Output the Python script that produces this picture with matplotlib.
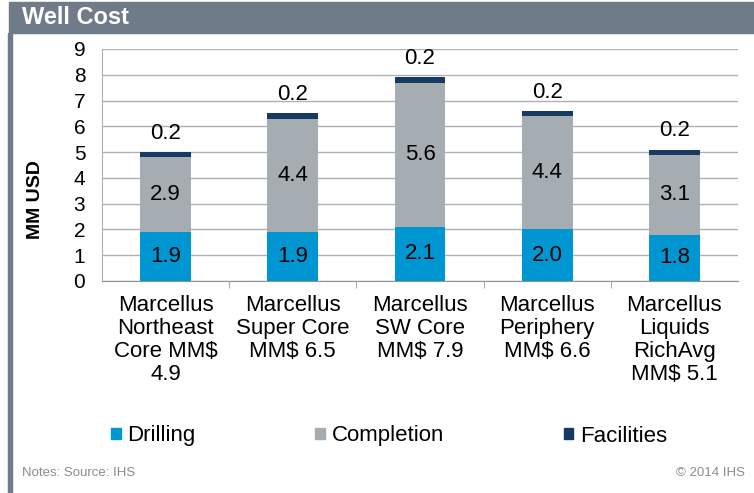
import matplotlib
matplotlib.use('Agg')
import matplotlib.pyplot as plt
from matplotlib.patches import Rectangle, Patch
import numpy as np

plt.rcParams['font.family'] = ['Liberation Sans', 'DejaVu Sans']

categories = ['Marcellus\nNortheast\nCore MM$\n4.9',
              'Marcellus\nSuper Core\nMM$ 6.5',
              'Marcellus\nSW Core\nMM$ 7.9',
              'Marcellus\nPeriphery\nMM$ 6.6',
              'Marcellus\nLiquids\nRichAvg\nMM$ 5.1']
drilling = [1.9, 1.9, 2.1, 2.0, 1.8]
completion = [2.9, 4.4, 5.6, 4.4, 3.1]
facilities = [0.2, 0.2, 0.2, 0.2, 0.2]
series_names = ['Drilling', 'Completion', 'Facilities']
colors = ['#0096d2', '#a5acb2', '#173a63']

HEADER = '#6f7b89'
GRID = '#a9b0b8'

fig = plt.figure(figsize=(7.54, 4.93), dpi=100)

# header bar and left border
fig.patches.append(Rectangle((9 / 754, 1 - 33 / 493), 1, 31 / 493,
                             transform=fig.transFigure, color=HEADER, zorder=0))
fig.patches.append(Rectangle((8 / 754, 0), 4 / 754, 1 - 33 / 493,
                             transform=fig.transFigure, color=HEADER, zorder=0))
fig.text(22 / 754, 1 - 18 / 493, 'Well Cost', color='white', fontsize=17,
         fontweight='bold', va='center', ha='left')

ax = fig.add_axes([102 / 754, 1 - 281 / 493, 636 / 754, 232 / 493])
x = np.arange(len(categories))
w = 0.4
bottoms = np.zeros(len(categories))
for vals, name, c in zip([drilling, completion, facilities], series_names, colors):
    ax.bar(x, vals, w, bottom=bottoms, color=c, label=name, zorder=3)
    bottoms = bottoms + np.array(vals)

for i in range(len(categories)):
    ax.text(x[i], drilling[i] / 2, '%.1f' % drilling[i], ha='center', va='center',
            fontsize=16, zorder=4)
    ax.text(x[i], drilling[i] + completion[i] / 2, '%.1f' % completion[i],
            ha='center', va='center', fontsize=16, zorder=4)
    ax.annotate('%.1f' % facilities[i], (x[i], bottoms[i]), xytext=(0, 6),
                textcoords='offset points', ha='center', va='bottom', fontsize=16,
                zorder=4)

ax.set_xlim(-0.5, len(categories) - 0.5)
ax.set_ylim(0, 9)
ax.set_yticks(range(10))
ax.yaxis.grid(True, color=GRID, linewidth=1)
ax.set_axisbelow(True)
ax.tick_params(axis='y', length=0, labelsize=15, pad=12)
ax.set_xticks(np.arange(len(categories) - 1) + 0.5)
ax.set_xticklabels([])
ax.tick_params(axis='x', length=5, color=GRID, direction='out')
for i, lab in enumerate(categories):
    ax.text(x[i], -0.55, lab, ha='center', va='top', fontsize=16, linespacing=1.12)
for s in ['top', 'right']:
    ax.spines[s].set_visible(False)
ax.spines['left'].set_color(GRID)
ax.spines['bottom'].set_color('#8a929b')
fig.text(36 / 754, 1 - 200 / 493, 'MM USD', fontsize=14, fontweight='bold',
         rotation=90, ha='center', va='center')

handles = [Patch(color=c) for c in colors]
fig.legend(handles, series_names, loc='center', bbox_to_anchor=(0.516, 1 - 436 / 493),
           ncol=3, frameon=False, fontsize=16, handlelength=0.42, handleheight=0.42,
           handletextpad=0.3, columnspacing=5.4)

fig.text(22 / 754, 1 - 473 / 493, 'Notes: Source: IHS', fontsize=9.5, color='#8c8c8c',
         va='center')
fig.text(745 / 754, 1 - 473 / 493, '\u00a9 2014 IHS', fontsize=9.5, color='#8c8c8c',
         va='center', ha='right')

fig.savefig('out.png', dpi=100)
